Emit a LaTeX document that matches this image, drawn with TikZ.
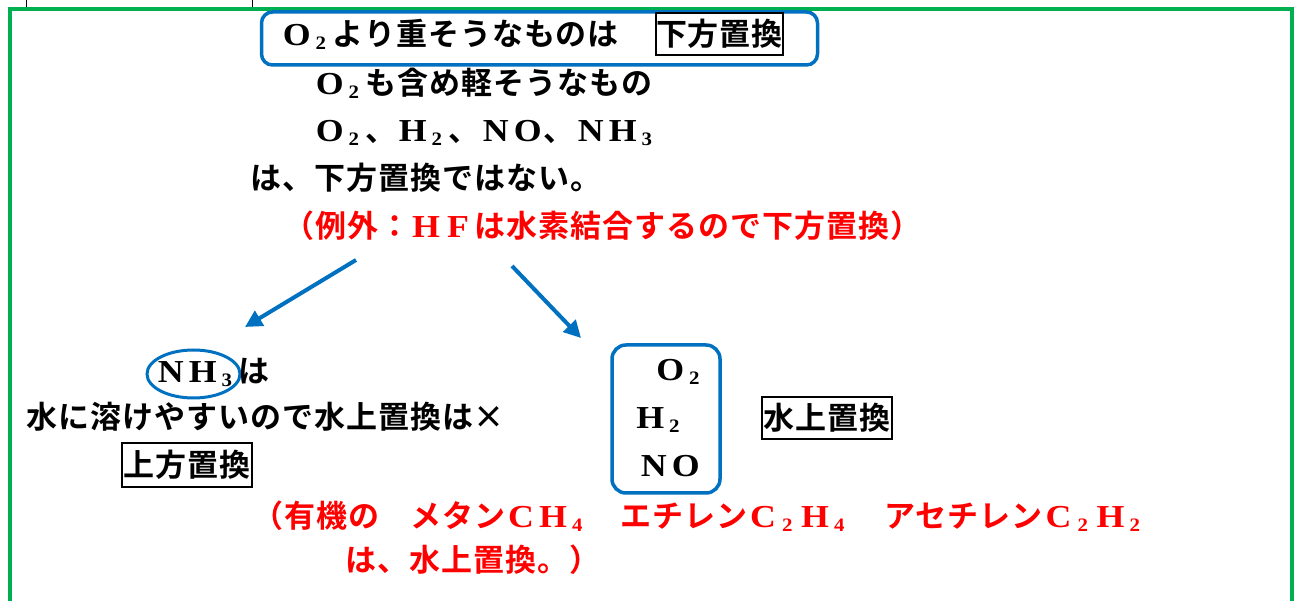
\documentclass[tikz,border=0pt]{standalone}
\usepackage{fontspec}
\usetikzlibrary{arrows.meta,shapes.geometric}
\newfontfamily\jpf{Noto Sans CJK JP Bold}[LetterSpace=3.2]
\newfontfamily\latf{Liberation Serif}
\definecolor{gbord}{HTML}{00B050}
\definecolor{myblue}{HTML}{0070C0}
\definecolor{myred}{HTML}{FF0000}
\newcommand\FW[1]{\makebox[32pt][c]{\scalebox{1.12}[1]{\latf\bfseries\fontsize{32pt}{32pt}\selectfont #1}}}
\newcommand\SB[1]{\makebox[20pt][l]{\hspace{3pt}\raisebox{-4pt}{\scalebox{1.1}[1]{\latf\bfseries\fontsize{19pt}{19pt}\selectfont #1}}}}
\tikzset{
  jpfont/.style={font=\jpf\fontsize{31pt}{36pt}\selectfont},
  txt/.style={jpfont, anchor=base west, inner sep=0pt, text=black},
  redtxt/.style={txt, text=myred},
  frm/.style={jpfont, draw=black, line width=1.5pt, inner sep=0pt},
  bluebox/.style={draw=myblue, line width=3.5pt, rounded corners=11pt},
  arr/.style={draw=myblue, line width=4pt, -{Triangle[length=17pt,width=17pt]}},
}
\begin{document}
\begin{tikzpicture}[x=1pt,y=-1pt]
\useasboundingbox (0,0) rectangle (1294,601);
% table remnants at top
\draw[line width=1pt] (26,0) -- (26,7);
\draw[line width=1pt] (252,0) -- (252,7);
% green frame
\draw[gbord, line width=4pt, line join=miter] (9.7,601) -- (9.7,9) -- (1292,9) -- (1292,601);

% top box
\node[bluebox, minimum width=556pt, minimum height=53pt] (topbox) at (539.5,38.5) {};
\node[txt] (l1) at (280.5,46) {\FW{O}\SB{2}より重そうなものは};
\node[frm, minimum width=127pt, minimum height=42pt] (kahou) at (719.5,34) {下方置換};
\node[txt] (l2) at (313.5,95) {\FW{O}\SB{2}も含め軽そうなもの};
\node[txt] (l3) at (313.5,142) {\FW{O}\SB{2}、\FW{H}\SB{2}、\FW{N}\FW{O}、\FW{N}\FW{H}\SB{3}};
\node[txt] (l4) at (250,190) {は、下方置換ではない。};
\node[redtxt] (r1) at (283,238) {（例外：\FW{H}\FW{F}は水素結合するので下方置換）};

% arrows
\coordinate (a1s) at (356,260);
\coordinate (a1e) at (245,327);
\coordinate (a2s) at (512,266);
\coordinate (a2e) at (581,338);
\draw[arr] (a1s) -- (a1e);
\draw[arr] (a2s) -- (a2e);

% left part
\node[draw=myblue, line width=3pt, ellipse, minimum width=93pt, minimum height=48pt, inner sep=0pt] (ell) at (193.5,374) {};
\node[txt] (nh3) at (154.5,383) {\FW{N}\FW{H}\SB{3}は};
\node[txt] (mizu) at (26,429) {水に溶けやすいので水上置換は\makebox[32pt][c]{×}};
\node[frm, minimum width=130pt, minimum height=44pt] (jouhou) at (187,465) {上方置換};

% right part
\node[bluebox, rounded corners=14pt, minimum width=108pt, minimum height=148pt] (gasbox) at (666,419) {};
\node[txt] (o2) at (654,381) {\FW{O}\SB{2}};
\node[txt] (h2) at (634,429) {\FW{H}\SB{2}};
\node[txt] (no) at (637.5,477) {\FW{N}\FW{O}};
\node[frm, minimum width=130pt, minimum height=42pt] (suijou) at (827,418) {水上置換};

% bottom red note
\node[redtxt] (b1) at (252,528) {（有機の};
\node[redtxt] (b2) at (410,528) {メタン\FW{C}\FW{H}\SB{4}};
\node[redtxt] (b3) at (620,528) {エチレン\FW{C}\SB{2}\FW{H}\SB{4}};
\node[redtxt] (b4) at (884,528) {アセチレン\FW{C}\SB{2}\FW{H}\SB{2}};
\node[redtxt] (b5) at (345,571) {は、水上置換。）};
\end{tikzpicture}
\end{document}
